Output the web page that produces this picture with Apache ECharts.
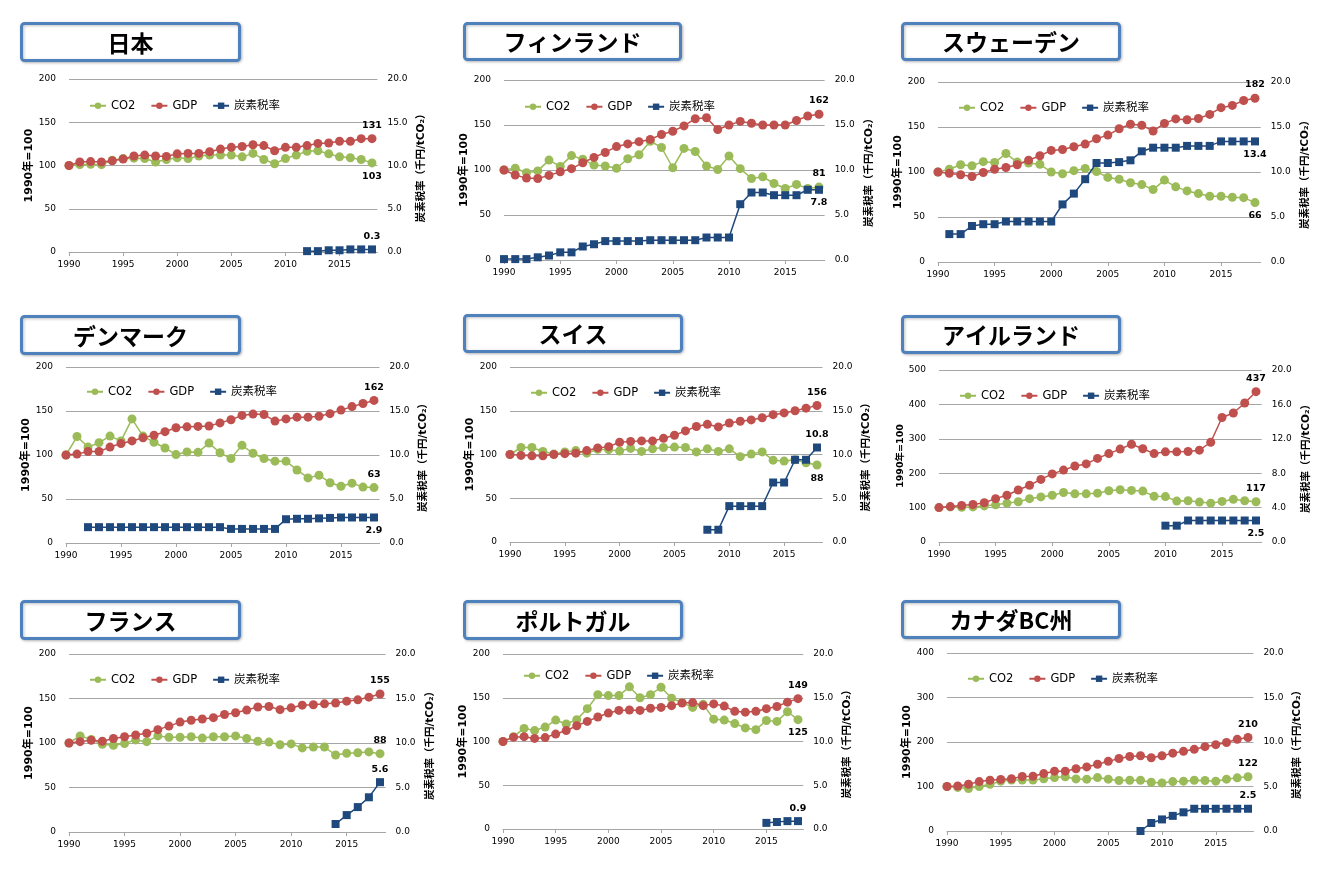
<!DOCTYPE html>
<html><head><meta charset="utf-8">
<script src="https://cdn.jsdelivr.net/npm/echarts@6/dist/echarts.min.js"></script>
<style>html,body{margin:0;padding:0;background:#fff}#c{width:1317px;height:871px}</style>
</head><body><div id="c"></div>
<script>
// ---------- data ----------
const years = [1990,1991,1992,1993,1994,1995,1996,1997,1998,1999,2000,2001,2002,2003,2004,2005,2006,2007,2008,2009,2010,2011,2012,2013,2014,2015,2016,2017,2018];
const xTickYears = [1990,1995,2000,2005,2010,2015];
const seriesNames = ['CO2','GDP','炭素税率'];
const leftAxisName = '1990年=100';
const rightAxisName = '炭素税率（千円/tCO₂）';
const titles = ['日本','フィンランド','スウェーデン','デンマーク','スイス','アイルランド','フランス','ポルトガル','カナダBC州'];

const japanCO2 = [100,101,101.5,101,106,108,108.5,108,104,107,109,108,111,112,112,112,110,114,107,102,108,112,116.5,117,113.5,110,109,107,103];
const japanGDP = [100,104,104.5,104,105.5,107.5,111,112,111,110.5,113.5,114,114,116,119,121,122,124,123,117,121,121,123,125.5,126,128,128,131,131];
const japanTax = [null,null,null,null,null,null,null,null,null,null,null,null,null,null,null,null,null,null,null,null,null,null,0.1,0.1,0.2,0.2,0.3,0.3,0.3];

const finlandCO2 = [100,102,97,99,111,104,116,112,105.5,104.5,102,112.5,117,132,125,102.5,124,120.5,104.5,100.5,115.5,101.5,90.5,92.5,85,79.5,84,79.5,81];
const finlandGDP = [100,94.5,91,90.5,94,98,101.5,108,114,119.5,126,129,131.5,134,139.5,143,149,157,158,145,150,154,152,150,150,150,155,160,162];
const finlandTax = [0.1,0.1,0.1,0.3,0.5,0.85,0.85,1.5,1.75,2.1,2.1,2.1,2.1,2.2,2.2,2.2,2.2,2.2,2.5,2.5,2.5,6.2,7.5,7.5,7.2,7.2,7.2,7.8,7.8];

const swedenCO2 = [100,103,108,107,111.5,110.5,120.5,111,110,108.5,100,98,101.5,104,100.5,94,92,88,86,80.5,91,83.5,79,76,73,73,72,71.5,66];
const swedenGDP = [100,98.5,97,95,99.5,103,105,108,113,118,124,125,128,131,137,141,148,153,152,145.5,154,159,158,159.5,164,171.5,174,179.5,182];
const swedenTax = [null,3.1,3.1,4.0,4.2,4.2,4.5,4.5,4.5,4.5,4.5,6.4,7.6,9.2,11.0,11.0,11.1,11.3,12.3,12.7,12.7,12.7,12.9,12.9,12.9,13.4,13.4,13.4,13.4];

const denmarkCO2 = [100,121,109,114,121.5,116,141,121.5,114.5,108,100.5,103.5,103,113.5,102.5,96,111,102,96,93,93,83,74,77,68.5,64.5,68,63.5,63];
const denmarkGDP = [100,101,104,104,109,113,116,119.5,122.5,126.5,131,132,132.5,133,136.5,140,145,146.5,146,138.5,141,143,143,144,147,151,155,158.5,162];
const denmarkTax = [null,null,1.8,1.8,1.8,1.8,1.8,1.8,1.8,1.8,1.8,1.8,1.8,1.8,1.8,1.6,1.6,1.6,1.6,1.6,2.7,2.75,2.75,2.8,2.85,2.9,2.9,2.9,2.9];

const swissCO2 = [100,108,108,103.5,100.5,103,104.5,101.5,106,105.5,104,107,103.5,106.5,108,108.5,108,103,106.5,103.5,106.5,97.5,100.5,103,93.5,92.5,94,90.5,88];
const swissGDP = [100,99,98.5,98.5,100,101,101.5,104.5,107.5,109,114,115,115.5,115.5,118.5,122,127,132,134.5,131.5,136,138,139.5,142,145.5,147.5,150,153,156];
const swissTax = [null,null,null,null,null,null,null,null,null,null,null,null,null,null,null,null,null,null,1.4,1.4,4.1,4.1,4.1,4.1,6.8,6.8,9.4,9.4,10.8];

const irelandCO2 = [100,102,101,102,105,108,113,117,126,131,136,144,140,140,142,149,152,150,148,133,132,119,120,116,113,118,124,120,117];
const irelandGDP = [100,103,106,109,114,126,136,151,165,182,198,209,221,227,243,257,270,284,271,257,262,262,263,267,290,362,375,404,437];
const irelandTax = [null,null,null,null,null,null,null,null,null,null,null,null,null,null,null,null,null,null,null,null,1.9,1.9,2.5,2.5,2.5,2.5,2.5,2.5,2.5];

const franceCO2 = [100,108,104,98.5,97.5,99.5,103.5,101.5,108,106.5,106.5,107,105.5,107,107,108,105,102,101,98,99,94.5,95.5,95.5,86.5,88.5,89,90,88];
const franceGDP = [100,101.5,103,102,105,107,109,111,115,119,123.5,125.5,127,128.5,132,134,137,140.5,141,137.5,139.5,142.5,143,144,145,147,148.5,151.5,155];
const franceTax = [null,null,null,null,null,null,null,null,null,null,null,null,null,null,null,null,null,null,null,null,null,null,null,null,0.9,1.9,2.8,3.9,5.6];

const portugalCO2 = [100,105.5,115,112.5,116.5,124.5,120,125,137.5,153.5,152.5,152.5,162.5,150,153.5,162,149.5,144.5,139,142.5,125.5,124.5,120.5,115.5,113.5,124,123,134,125];
const portugalGDP = [100,105,105.5,103.5,104.5,108.5,112.5,118,123,128,132.5,135.5,136,135.5,138,139,141,144,144.5,141,143,140.5,134.5,133.5,134.5,137.5,140,145,149];
const portugalTax = [null,null,null,null,null,null,null,null,null,null,null,null,null,null,null,null,null,null,null,null,null,null,null,null,null,0.7,0.8,0.9,0.9];

const canadaCO2 = [100,98,95.5,100,105,112,114.5,114.5,114.5,117.5,120,122,117,116.5,120,116.5,113.5,114,114,109.5,108,111,112,114,113.5,112,116.5,119.5,122];
const canadaGDP = [100,101,105,111,114,116,117.5,122.5,123,129,134.5,134.5,140,144,150,156.5,163,167.5,169,164.5,169,175,179,183.5,189.5,194,199,206,210];
const canadaTax = [null,null,null,null,null,null,null,null,null,null,null,null,null,null,null,null,null,null,0.0,0.9,1.3,1.7,2.1,2.5,2.5,2.5,2.5,2.5,2.5];

const leftMax = [200,200,200,200,200,500,200,200,400];
const leftInterval = [50,50,50,50,50,100,50,50,100];
const rightInterval = [5,5,5,5,5,4,5,5,5];

const panelData = [
  [japanCO2, japanGDP, japanTax],
  [finlandCO2, finlandGDP, finlandTax],
  [swedenCO2, swedenGDP, swedenTax],
  [denmarkCO2, denmarkGDP, denmarkTax],
  [swissCO2, swissGDP, swissTax],
  [irelandCO2, irelandGDP, irelandTax],
  [franceCO2, franceGDP, franceTax],
  [portugalCO2, portugalGDP, portugalTax],
  [canadaCO2, canadaGDP, canadaTax]
];

// ---------- layout / style ----------
const layout = [
  {x0:69,  x1:372,  top:79,  bottom:252, box:[20,22,221,40],  legY:102, lab:['bottom','top','top']},
  {x0:504, x1:819,  top:80,  bottom:260, box:[463,22,219,39], legY:103, lab:['top','top','bottom']},
  {x0:938, x1:1255, top:82,  bottom:262, box:[901,22,220,39], legY:104, lab:['bottom','top','bottom']},
  {x0:66,  x1:374,  top:367, bottom:543, box:[20,315,221,40], legY:388, lab:['top','top','bottom']},
  {x0:510, x1:817,  top:367, bottom:542, box:[463,314,220,39],legY:389, lab:['bottom','top','top']},
  {x0:939, x1:1256, top:370, bottom:542, box:[901,315,220,39],legY:392, lab:['top','top','bottom']},
  {x0:69,  x1:380,  top:654, bottom:832, box:[20,600,221,40], legY:676, lab:['top','top','top']},
  {x0:503, x1:798,  top:654, bottom:829, box:[463,600,220,40],legY:672, lab:['bottom','top','top']},
  {x0:947, x1:1248, top:653, bottom:831, box:[901,600,220,39],legY:675, lab:['top','top','top']}
];
const colors = ['#9BBB59','#C0504D','#1F497D'];
const gridColor = '#a6a6a6';
const FONT = "'DejaVu Sans','Noto Sans CJK JP',sans-serif";

const grids=[], xAxes=[], yAxes=[], series=[], legends=[], graphics=[];
layout.forEach((L,i)=>{
  const w = (L.x1-L.x0)*28.5/28;
  grids.push({left:L.x0, top:L.top, width:w, height:L.bottom-L.top});
  xAxes.push({type:'value', gridIndex:i, min:1990, max:2018.5, interval:5,
    axisLine:{show:true, lineStyle:{color:gridColor}},
    axisTick:{show:true, length:4, customValues:xTickYears, lineStyle:{color:gridColor}},
    axisLabel:{customValues:xTickYears, fontSize:9, color:'#000', margin:8, fontFamily:FONT,
      formatter:v=> (v%5===0? String(v):'')},
    splitLine:{show:false}});
  yAxes.push({type:'value', gridIndex:i, position:'left', min:0, max:leftMax[i], interval:leftInterval[i],
    axisLine:{show:false}, axisTick:{show:false},
    axisLabel:{fontSize:9, color:'#000', margin:13, fontFamily:FONT},
    splitLine:{show:true, lineStyle:{color:gridColor, width:1}},
    name:leftAxisName, nameLocation:'middle', nameGap:(i===5?30:33), nameRotate:90,
    nameTextStyle:{fontWeight:'bold', fontSize:(i===5?9.5:11), color:'#000', fontFamily:FONT}});
  yAxes.push({type:'value', gridIndex:i, position:'right', min:0, max:20, interval:rightInterval[i],
    axisLine:{show:false}, axisTick:{show:false}, splitLine:{show:false},
    axisLabel:{fontSize:9, color:'#000', margin:10, fontFamily:FONT, formatter:v=>v.toFixed(1)},
    name:rightAxisName, nameLocation:'middle', nameGap:39, nameRotate:90,
    nameTextStyle:{fontWeight:'bold', fontSize:10.5, color:'#000', fontFamily:FONT}});
  panelData[i].forEach((arr,s)=>{
    let last=-1; arr.forEach((v,k)=>{ if(v!=null) last=k; });
    const data=[];
    arr.forEach((v,k)=>{
      if(v==null) return;
      if(k===last){
        data.push({value:[years[k],v], label:{show:true, position:L.lab[s], distance:4,
          fontSize:9.5, fontWeight:'bold', color:'#000', fontFamily:FONT,
          formatter:p=> s===2 ? p.value[1].toFixed(1) : String(Math.round(p.value[1]))}});
      } else data.push([years[k],v]);
    });
    series.push({type:'line', name:seriesNames[s], xAxisIndex:i, yAxisIndex:2*i+(s===2?1:0),
      data:data, symbol: s===2?'rect':'circle', symbolSize: s===2?8:9,
      itemStyle:{color:colors[s]}, lineStyle:{color:colors[s], width:1.5},
      z:2+s, animation:false, emphasis:{disabled:true}});
  });
  legends.push({data:seriesNames, left:L.x0+15, top:L.legY-7, itemWidth:16, itemHeight:8, itemGap:15,
    selectedMode:false, textStyle:{fontSize:11.5, color:'#000', fontFamily:FONT}});
  const [bx,by,bw,bh]=L.box;
  graphics.push({type:'rect', shape:{x:bx+1.5,y:by+1.5,width:bw-3,height:bh-3,r:3},
    style:{fill:'#fff', stroke:'#4f81bd', lineWidth:3, shadowBlur:3, shadowColor:'rgba(0,0,0,0.25)', shadowOffsetX:1, shadowOffsetY:1}});
  graphics.push({type:'text', x:bx+bw/2, y:by+bh/2+1,
    style:{text:titles[i], fontSize:23, fontWeight:'bold', fontFamily:"'Noto Sans CJK JP',sans-serif",
      fill:'#000', align:'center', verticalAlign:'middle'}});
});

const chart = echarts.init(document.getElementById('c'), null, {renderer:'canvas'});
chart.setOption({
  animation:false,
  textStyle:{fontFamily:FONT},
  grid:grids, xAxis:xAxes, yAxis:yAxes, series:series, legend:legends, graphic:graphics
});
</script></body></html>
